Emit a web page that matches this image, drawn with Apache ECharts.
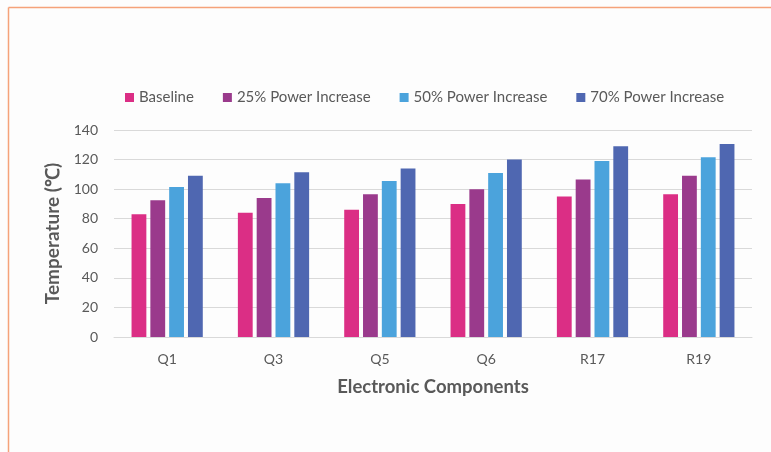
<!DOCTYPE html>
<html>
<head>
<meta charset="utf-8">
<script src="https://cdn.jsdelivr.net/npm/echarts@6/dist/echarts.min.js"></script>
<style>
  html, body { margin: 0; padding: 0; background: #fdfdfd; }
  #chart { width: 771px; height: 452px; }
</style>
</head>
<body>
<div id="chart"></div>
<script>
// Components and temperatures (°C) under each power level
const components = ['Q1', 'Q3', 'Q5', 'Q6', 'R17', 'R19'];
const baseline   = [83, 84, 86, 90, 95, 96.5];
const power25    = [92.5, 94, 96.5, 100, 106.5, 109];
const power50    = [101.5, 104, 105.5, 111, 119, 121.5];
const power70    = [109, 111.5, 114, 120, 129, 130.5];
const seriesNames = ['Baseline', '25% Power Increase', '50% Power Increase', '70% Power Increase'];
const seriesColors = ['#db2e85', '#9a3a8c', '#4ba3dc', '#4f67b1'];
const yTicks = [0, 20, 40, 60, 80, 100, 120, 140];

const textColor = '#595959';
const fontFamily = 'Lato, "Open Sans", sans-serif';

const chart = echarts.init(document.getElementById('chart'), null, { renderer: 'canvas' });

const values = [baseline, power25, power50, power70];

chart.setOption({
  backgroundColor: '#fdfdfd',
  animation: false,
  graphic: [
    { type: 'line', shape: { x1: 8.5, y1: 7.5, x2: 771, y2: 7.5 }, style: { stroke: '#f5a27a', lineWidth: 1.5 } },
    { type: 'line', shape: { x1: 8.5, y1: 7.5, x2: 8.5, y2: 452 }, style: { stroke: '#f5a27a', lineWidth: 1.5 } }
  ],
  legend: {
    top: 85,
    left: 120,
    itemWidth: 9,
    itemHeight: 9,
    itemGap: 29,
    icon: 'rect',
    textStyle: { color: textColor, fontSize: 15, fontFamily: fontFamily },
    data: seriesNames
  },
  grid: { left: 114, right: 19, top: 130, bottom: 115, containLabel: false },
  xAxis: {
    type: 'category',
    data: components,
    axisTick: { show: false },
    axisLine: { lineStyle: { color: '#d9d9d9', width: 1 } },
    axisLabel: { color: textColor, fontSize: 14, fontFamily: fontFamily, margin: 15 },
    name: 'Electronic Components',
    nameLocation: 'middle',
    nameGap: 41,
    nameTextStyle: { color: textColor, fontSize: 18.5, fontWeight: 'bold', fontFamily: fontFamily }
  },
  yAxis: {
    type: 'value',
    min: yTicks[0],
    max: yTicks[yTicks.length - 1],
    interval: 20,
    axisLine: { show: false },
    axisTick: { show: false },
    splitLine: { lineStyle: { color: '#d9d9d9', width: 1 } },
    axisLabel: { color: textColor, fontSize: 14, fontFamily: fontFamily, margin: 16 },
    name: 'Temperature (℃)',
    nameLocation: 'middle',
    nameGap: 46,
    nameTextStyle: { color: textColor, fontSize: 19, fontWeight: 'bold', fontFamily: fontFamily }
  },
  series: seriesNames.map((name, i) => ({
    name: name,
    type: 'bar',
    data: values[i],
    barGap: '27%',
    barCategoryGap: '33%',
    itemStyle: { color: seriesColors[i] }
  }))
});
</script>
</body>
</html>
